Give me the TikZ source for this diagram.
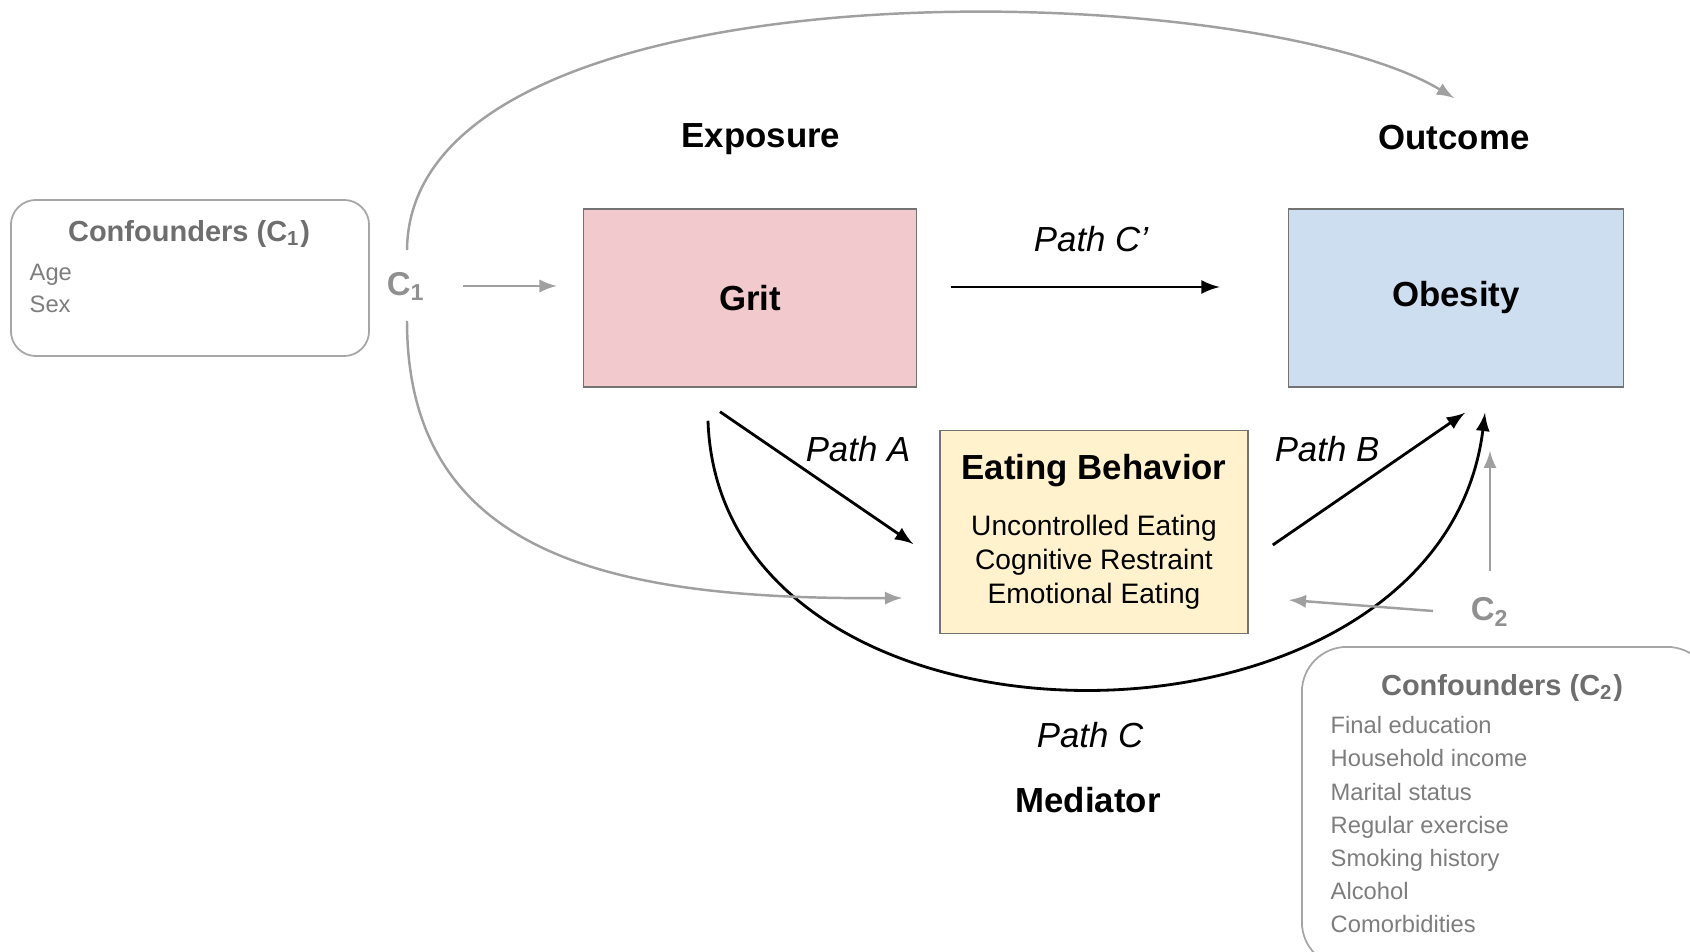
\documentclass[tikz,border=0pt]{standalone}
\usepackage{fontspec}
\setmainfont{Liberation Sans}
\usepackage{xcolor}
\usetikzlibrary{arrows}

\definecolor{gritpink}{RGB}{242,202,206}
\definecolor{obeseblue}{RGB}{205,222,240}
\definecolor{eatyellow}{RGB}{255,242,204}
\definecolor{confgray}{RGB}{110,110,110}
\definecolor{itemgray}{RGB}{125,125,125}
\definecolor{linkgray}{RGB}{160,160,160}

\begin{document}
\begin{tikzpicture}[x=0.01cm,y=-0.01cm]
\tikzset{var box/.style={draw=black!55,minimum height=1.78cm,inner sep=0pt,font=\fontsize{9.9}{12}\selectfont\bfseries}}
\tikzset{role label/.style={font=\fontsize{9.9}{12}\selectfont\bfseries}}
\tikzset{path label/.style={font=\fontsize{9.9}{12}\selectfont\itshape}}
\tikzset{conf box/.style={draw=black!35,rounded corners=0.25cm,line width=0.5pt}}
\tikzset{conf title/.style={text=confgray,font=\fontsize{8.25}{10}\selectfont\bfseries}}
\tikzset{conf item/.style={text=itemgray,font=\fontsize{6.75}{9.2}\selectfont,align=left,anchor=north west,inner sep=0pt}}
\tikzset{conf label/.style={text=linkgray!90!black,font=\fontsize{9.4}{11}\selectfont\bfseries}}
\tikzset{link/.style={-latex,thick}}
\tikzset{conf link/.style={-latex,line width=0.7pt,linkgray}}

\useasboundingbox (0,0) rectangle (1690,952);

% the three variables
\node[var box,fill=gritpink,minimum width=3.33cm] (grit) at (750,298) {Grit};
\node[var box,fill=obeseblue,minimum width=3.35cm] (obese) at (1456,298) {Obesity};
\node[var box,fill=eatyellow,minimum width=3.08cm,minimum height=2.03cm,align=center,font=\fontsize{8}{9.7}\selectfont] (eat) at (1094,532)
  {{\fontsize{9.9}{12}\selectfont\bfseries Eating Behavior}\\[6pt]
   Uncontrolled Eating\\ Cognitive Restraint\\ Emotional Eating};

\node[role label] (expo) at (761,139) {Exposure};
\node[role label] (outc) at (1454,138) {Outcome};
\node[role label] (medi) at (1088,800) {Mediator};

\node[path label] (pcp) at (1091,239) {Path C’};
\node[path label] (pa) at (858,449) {Path A};
\node[path label] (pb) at (1327,449) {Path B};
\node[path label] (pc) at (1090,735) {Path C};

% confounders
\node[conf box,minimum width=3.58cm,minimum height=1.56cm] (c1box) at (190,278) {};
\node[conf title] (c1title) at (189,234) {Confounders (C\textsubscript{1})};
\node[conf item] (c1items) at (29,263) {Age\\Sex};
\node[conf label] (c1) at (406,286) {C\textsubscript{1}};

\node[conf box,rounded corners=0.45cm,minimum width=4.1cm,minimum height=3.2cm] (c2box) at (1507,807) {};
\node[conf title] (c2title) at (1502,688) {Confounders (C\textsubscript{2})};
\node[conf item,font=\fontsize{6.75}{9.4}\selectfont] (c2items) at (1330,716)
  {Final education\\Household income\\Marital status\\Regular exercise\\Smoking history\\Alcohol\\Comorbidities};
\node[conf label] (c2) at (1490,612) {C\textsubscript{2}};

% paths
\draw[link] ([shift={(34,-11)}]grit.east) -- ([shift={(-68,-11)}]obese.west);
\draw[link] ([shift={(-30,24)}]grit.south) -- ([shift={(-26,12)}]eat.west);
\draw[link] ([shift={(24,13)}]eat.east) -- ([shift={(9,25)}]obese.south);
\draw[link] ([shift={(-42,33)}]grit.south) .. controls (720,779) and (1440,779) .. ([shift={(29,25)}]obese.south);

% confounder links
\draw[conf link] ([shift={(57,0)}]c1.center) -- ([shift={(-26,-12)}]grit.west);
\draw[conf link] ([shift={(1,-36)}]c1.center) .. controls (410,-45) and (1250,-25) .. ([shift={(0,-40)}]outc.center);
\draw[conf link] ([shift={(1,35)}]c1.center) .. controls (407,560) and (620,600) .. ([shift={(-37,66)}]eat.west);
\draw[conf link] ([shift={(0,-41)}]c2.center) -- ([shift={(34,63)}]obese.south);
\draw[conf link] ([shift={(-57,-1)}]c2.center) -- ([shift={(40,68)}]eat.east);

\end{tikzpicture}
\end{document}
